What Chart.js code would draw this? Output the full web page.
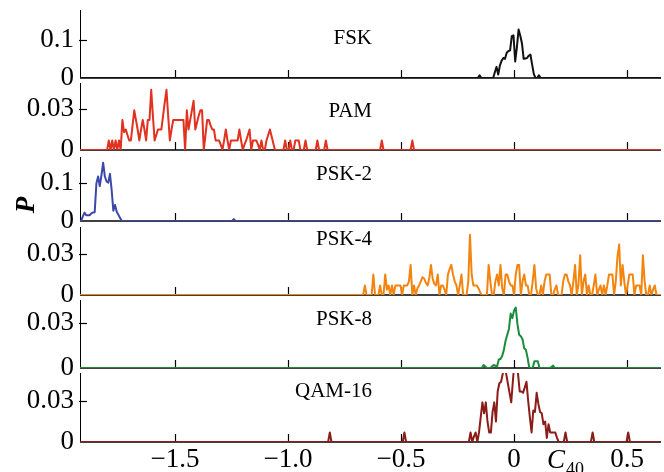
<!DOCTYPE html>
<html>
<head>
<meta charset="utf-8">
<script src="https://cdn.jsdelivr.net/npm/chart.js@4.4.1/dist/chart.umd.min.js"></script>
<style>
  body { margin: 0; background: #fff; }
  #wrap { position: relative; width: 664px; height: 472px; overflow: hidden; font-family: 'Liberation Serif', 'Times New Roman', serif; color: #000; }
  .panel { position: absolute; left: 0; }
  .name { position: absolute; right: 292px; font-size: 21px; line-height: 22px; white-space: nowrap; }
  #ylab { position: absolute; left: 10px; top: 190px; width: 30px; height: 30px; line-height: 30px; text-align: center;
          font-size: 27px; font-style: italic; font-weight: bold; transform: rotate(-90deg); }
  #xlab { position: absolute; left: 547px; top: 444px; font-size: 27px; font-style: italic; line-height: 30px; white-space: nowrap; }
  #xlab sub { font-style: normal; font-size: 18px; vertical-align: -7px; margin-left: 1px; }
</style>
</head>
<body>
<div id="wrap">
  <div class="name" style="top:26px">FSK</div>
  <div class="name" style="top:99px">PAM</div>
  <div class="name" style="top:162px">PSK-2</div>
  <div class="name" style="top:227px">PSK-4</div>
  <div class="name" style="top:307px">PSK-8</div>
  <div class="name" style="top:379px">QAM-16</div>
  <div id="ylab">P</div>
  <div id="xlab">C<sub>40</sub></div>
</div>
<script>
// shared x axis
const xMin = -1.92, xMax = 0.65;
const binStep = 0.0075;
const xTicks = [-1.5, -1.0, -0.5, 0, 0.5];
const xTickLabels = ['\u22121.5', '\u22121.0', '\u22120.5', '0', '0.5'];

// histogram values, one bin every binStep starting at *Start
const fskStart = -0.16;
const fskValues = [
  0, 0.007, 0, 0, 0, 0, 0, 0, 0, 0,
  0.015, 0.029, 0.009, 0.033, 0.045, 0.052, 0.050, 0.066, 0.070, 0.072,
  0.109, 0.111, 0.043, 0.080, 0.126, 0.110, 0.090, 0.050, 0.051, 0.052,
  0.058, 0.061, 0.035, 0.010, 0, 0, 0.007, 0
];

const pamStart = -1.80;
const pamValues = [
  0, 0.007, 0, 0.007, 0, 0.007, 0, 0.007, 0, 0.022,
  0.013, 0.015, 0.011, 0.007, 0.007, 0.018, 0.029, 0.022, 0.015, 0.007,
  0.015, 0.022, 0.015, 0.007, 0.022, 0.022, 0.044, 0.025, 0.007, 0.011,
  0.015, 0.015, 0.015, 0.025, 0.035, 0.044, 0.025, 0.007, 0.015, 0.022,
  0.022, 0.022, 0.022, 0.022, 0.022, 0.022, 0, 0.029, 0.015, 0.022,
  0.029, 0.036, 0.015, 0.020, 0.025, 0.029, 0.029, 0, 0.011, 0.022,
  0.022, 0.018, 0.015, 0.015, 0.007, 0.007, 0.007, 0.004, 0, 0.007,
  0.015, 0.007, 0, 0.007, 0.007, 0.007, 0.007, 0.007, 0.015, 0.007,
  0, 0.004, 0.007, 0.011, 0.015, 0, 0.007, 0.007, 0.007, 0.004,
  0, 0.007, 0, 0, 0.007, 0.011, 0.015, 0.010, 0.005, 0,
  0, 0, 0, 0, 0, 0.007, 0, 0, 0.007, 0,
  0, 0.007, 0.007, 0.007, 0, 0, 0, 0.007, 0, 0,
  0, 0, 0, 0, 0.007, 0, 0, 0, 0, 0.007,
  0, 0, 0, 0, 0, 0, 0, 0, 0, 0,
  0, 0, 0, 0, 0, 0, 0, 0, 0, 0,
  0, 0, 0, 0, 0, 0, 0, 0, 0, 0,
  0, 0, 0.007, 0, 0, 0, 0, 0, 0, 0,
  0, 0, 0, 0, 0, 0, 0, 0, 0, 0,
  0.007, 0
];

const psk2Start = -1.915;
const psk2Values = [
  0, 0.012, 0.022, 0.015, 0.015, 0.015, 0.020, 0.022, 0.023, 0.098,
  0.116, 0.091, 0.120, 0.152, 0.116, 0.103, 0.100, 0.123, 0.081, 0.027,
  0.042, 0.024, 0.016, 0.008, 0, 0, 0, 0, 0, 0,
  0, 0, 0, 0, 0, 0, 0, 0, 0, 0,
  0, 0, 0, 0, 0, 0, 0, 0, 0, 0,
  0, 0, 0, 0, 0, 0, 0, 0, 0, 0,
  0, 0, 0, 0, 0, 0, 0, 0, 0, 0,
  0, 0, 0, 0, 0, 0, 0, 0, 0, 0,
  0, 0, 0, 0, 0, 0, 0, 0, 0, 0,
  0.005, 0
];

const psk4Start = -0.675;
const psk4Values = [
  0, 0, 0.007, 0, 0, 0, 0, 0.015, 0, 0,
  0, 0.007, 0, 0, 0.015, 0.004, 0.007, 0, 0.007, 0,
  0.007, 0.007, 0.007, 0.007, 0, 0.007, 0.007, 0.007, 0.010, 0.022,
  0, 0.007, 0, 0.005, 0.007, 0.010, 0.013, 0.012, 0.009, 0.007,
  0.012, 0.022, 0.012, 0.008, 0.007, 0.015, 0, 0.007, 0.007, 0.004,
  0, 0.015, 0.019, 0.022, 0.015, 0.010, 0.007, 0, 0.007, 0.015,
  0, 0, 0, 0.010, 0.044, 0.015, 0.007, 0.007, 0.007, 0.005,
  0.002, 0, 0, 0, 0, 0.022, 0.010, 0, 0, 0.010,
  0.015, 0.007, 0.022, 0.005, 0, 0.015, 0.015, 0.010, 0.007, 0.007,
  0, 0.015, 0.022, 0.022, 0, 0.010, 0.015, 0.007, 0.007, 0,
  0, 0.010, 0.022, 0.005, 0, 0, 0.007, 0, 0.010, 0.015,
  0.015, 0.015, 0, 0, 0.004, 0.007, 0, 0, 0, 0.010,
  0.015, 0.015, 0.010, 0.007, 0, 0.010, 0.022, 0, 0.008, 0.029,
  0, 0.010, 0.015, 0, 0.007, 0, 0, 0.007, 0.015, 0,
  0.004, 0.007, 0, 0.007, 0, 0.007, 0.015, 0.015, 0.015, 0,
  0.010, 0.028, 0.037, 0.007, 0.022, 0.010, 0, 0.007, 0.015, 0.015,
  0.015, 0, 0.007, 0.007, 0.007, 0, 0.029, 0.010, 0, 0,
  0.007, 0, 0.004, 0.007, 0, 0, 0
];

const psk8Start = -0.15;
const psk8Values = [
  0, 0, 0.002, 0.001, 0, 0, 0, 0.001, 0.002, 0.0015,
  0.001, 0.0056, 0.006, 0.008, 0.012, 0.018, 0.022, 0.026, 0.036, 0.033,
  0.038, 0.040, 0.029, 0.022, 0.021, 0.019, 0.013, 0.012, 0.0067, 0,
  0, 0, 0.0044, 0.0044, 0.0044, 0, 0, 0, 0, 0,
  0, 0, 0.0005, 0.0016, 0
];

const qamStart = -0.83;
const qamValues = [
  0, 0, 0.007, 0, 0, 0, 0, 0, 0, 0,
  0, 0, 0, 0, 0, 0, 0, 0, 0, 0,
  0, 0, 0, 0, 0, 0, 0, 0, 0, 0,
  0, 0, 0, 0, 0, 0, 0, 0, 0, 0,
  0, 0, 0, 0, 0, 0, 0.007, 0, 0, 0,
  0, 0, 0, 0, 0, 0, 0, 0, 0, 0,
  0, 0, 0, 0, 0, 0, 0, 0, 0, 0,
  0, 0, 0, 0, 0, 0, 0, 0, 0, 0,
  0, 0, 0, 0, 0, 0.007, 0, 0.004, 0.007, 0,
  0.007, 0.018, 0.029, 0.021, 0.029, 0.015, 0.007, 0.007, 0.022, 0.029,
  0.015, 0.037, 0.043, 0.044, 0.050, 0.062, 0.050, 0.043, 0.036, 0.029,
  0.045, 0.060, 0.065, 0.050, 0.037, 0.037, 0.036, 0.040, 0.044, 0.030,
  0.018, 0.007, 0.023, 0.022, 0.036, 0.028, 0.022, 0.021, 0.013, 0.015,
  0.003, 0.013, 0.007, 0.007, 0.007, 0.007, 0.003, 0, 0, 0,
  0, 0.007, 0, 0, 0, 0, 0, 0, 0, 0,
  0, 0, 0, 0, 0, 0, 0, 0.007, 0, 0,
  0, 0, 0, 0, 0, 0, 0, 0, 0, 0,
  0, 0, 0, 0, 0, 0, 0, 0, 0.007, 0
];

// panel layout: chart-area top and zero line in page pixels
const panels = [
  { start: fskStart,  values: fskValues,  color: '#111111', top: 10,  base: 78,  yMax: 0.177, yTicks: [0, 0.1] },
  { start: pamStart,  values: pamValues,  color: '#e1311f', top: 83,  base: 150, yMax: 0.049, yTicks: [0, 0.03] },
  { start: psk2Start, values: psk2Values, color: '#3b48a8', top: 157, base: 221, yMax: 0.167, yTicks: [0, 0.1] },
  { start: psk4Start, values: psk4Values, color: '#f3850f', top: 227, base: 295, yMax: 0.0497, yTicks: [0, 0.03] },
  { start: psk8Start, values: psk8Values, color: '#1b8c3c', top: 300, base: 368, yMax: 0.045, yTicks: [0, 0.03] },
  { start: qamStart,  values: qamValues,  color: '#8b1c17', top: 373, base: 442, yMax: 0.0505, yTicks: [0, 0.03] }
];

const PAD = 24;       // room above/below each plot for tick labels
const AXIS_W = 80;    // y axis column width
const XAXIS_H = 30;   // bottom tick label row
const tickFont = { family: "'Liberation Serif', 'Times New Roman', serif", size: 27 };

function toPoints(start, values) {
    const pts = [{ x: xMin, y: 0 }];
    values.forEach((v, i) => pts.push({ x: start + i * binStep, y: v }));
    pts.push({ x: xMax, y: 0 });
    return pts;
}

// axis lines and inward tick marks
const framePlugin = {
    id: 'frame',
    beforeDatasetsDraw(chart) {
        const { ctx, chartArea: a, scales: { x, y } } = chart;
        const y0 = y.getPixelForValue(0);
        ctx.save();
        ctx.strokeStyle = '#000';
        ctx.lineWidth = 1;
        ctx.beginPath();
        ctx.moveTo(a.left + 0.5, a.top);
        ctx.lineTo(a.left + 0.5, y0);
        ctx.stroke();
        ctx.lineWidth = 1.5;
        ctx.beginPath();
        ctx.moveTo(a.left, y0);
        ctx.lineTo(a.right, y0);
        ctx.stroke();
        ctx.lineWidth = 1.2;
        xTicks.forEach(v => {
            const px = Math.round(x.getPixelForValue(v)) + 0.5;
            ctx.beginPath();
            ctx.moveTo(px, y0);
            ctx.lineTo(px, y0 - 8);
            ctx.stroke();
        });
        y.ticks.forEach(t => {
            if (t.value === 0) return;
            const py = Math.round(y.getPixelForValue(t.value)) + 0.5;
            ctx.beginPath();
            ctx.moveTo(a.left - 1, py);
            ctx.lineTo(a.left + 7, py);
            ctx.stroke();
        });
        ctx.restore();
    }
};

const wrap = document.getElementById('wrap');

panels.forEach((p, i) => {
    const isLast = i === panels.length - 1;
    const plotH = p.base - p.top;
    const h = PAD + plotH + (isLast ? XAXIS_H : PAD);
    const canvas = document.createElement('canvas');
    canvas.className = 'panel';
    canvas.width = 664;
    canvas.height = h;
    canvas.style.top = (p.top - PAD) + 'px';
    wrap.insertBefore(canvas, wrap.firstChild);

    new Chart(canvas.getContext('2d'), {
        type: 'line',
        data: {
            datasets: [{
                data: toPoints(p.start, p.values),
                borderColor: p.color,
                borderWidth: 2,
                borderJoinStyle: 'round',
                pointRadius: 0,
                tension: 0,
                fill: false
            }]
        },
        options: {
            responsive: false,
            animation: false,
            devicePixelRatio: 1,
            layout: { padding: { left: 0, right: 3, top: PAD, bottom: isLast ? 0 : PAD } },
            plugins: { legend: { display: false }, tooltip: { enabled: false } },
            scales: {
                x: {
                    type: 'linear',
                    min: xMin,
                    max: xMax,
                    display: isLast,
                    grid: { display: false, drawTicks: false },
                    border: { display: false },
                    afterBuildTicks: s => { s.ticks = xTicks.map(v => ({ value: v })); },
                    afterFit: s => { s.height = isLast ? XAXIS_H : 0; },
                    ticks: {
                        autoSkip: false,
                        maxRotation: 0,
                        padding: 2,
                        color: '#000',
                        font: tickFont,
                        callback: (v, idx) => xTickLabels[idx]
                    }
                },
                y: {
                    min: 0,
                    max: p.yMax,
                    grid: { display: false, drawTicks: false },
                    border: { display: false },
                    afterBuildTicks: s => { s.ticks = p.yTicks.map(v => ({ value: v })); },
                    afterFit: s => { s.width = AXIS_W; },
                    ticks: {
                        autoSkip: false,
                        padding: 6,
                        color: '#000',
                        font: tickFont,
                        callback: v => v === 0 ? '0' : String(v)
                    }
                }
            }
        },
        plugins: [framePlugin]
    });
});
</script>
</body>
</html>
